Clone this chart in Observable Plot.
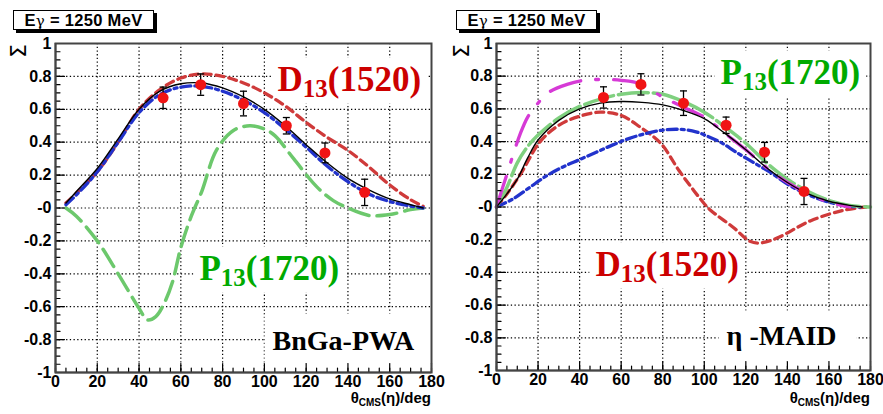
<!DOCTYPE html>
<html><head><meta charset="utf-8">
<script src="https://cdn.jsdelivr.net/npm/d3@7"></script>
<script src="https://cdn.jsdelivr.net/npm/@observablehq/plot@0.6"></script>
<style>
body{margin:0;background:#fff;}
#wrap{position:relative;width:883px;height:414px;overflow:hidden;font-family:"Liberation Sans",Arial,sans-serif;background:#fff;}
.panel{position:absolute;top:0;overflow:visible;}
.ebox{position:absolute;top:10px;height:18px;width:139px;border:1.5px solid #000;background:#fff;box-shadow:3px 3px 0 #000;font-weight:bold;font-size:16.5px;line-height:18px;text-align:center;white-space:nowrap;letter-spacing:0.3px;}
.ebox .g{font-family:"DejaVu Serif",serif;font-weight:normal;font-size:15px;}
.sig{position:absolute;font-family:"DejaVu Sans",sans-serif;font-size:22px;transform:rotate(-90deg);transform-origin:center;line-height:22px;}
.xt{position:absolute;top:389px;font-size:15px;font-weight:bold;white-space:nowrap;}
.xt sub{font-size:10px;vertical-align:-3px;}
</style></head>
<body><div id="wrap"></div>
<script>
// ---------- data ----------
const thetaData = [51.5, 69.5, 90, 110.5, 129, 148];
const sigmaData = [0.67, 0.75, 0.635, 0.50, 0.335, 0.095];
const sigmaErr  = [0.065, 0.065, 0.075, 0.05, 0.06, 0.08];

// BnGa-PWA panel
const bngaTheta = [5,10,20,30,40,50,60,70,80,90,100,110,120,130,140,150,160,170,176];
const bngaFull  = [0.03,0.10,0.24,0.42,0.60,0.71,0.755,0.76,0.73,0.675,0.60,0.50,0.385,0.275,0.18,0.11,0.055,0.02,0.0];
const bngaBlue  = [0.02,0.08,0.22,0.40,0.58,0.69,0.735,0.74,0.71,0.655,0.58,0.48,0.37,0.255,0.16,0.085,0.04,0.012,0.0];
const bngaD13   = [0.03,0.09,0.22,0.40,0.60,0.72,0.79,0.815,0.80,0.76,0.70,0.62,0.52,0.43,0.35,0.25,0.14,0.05,0.01];
const bngaP13Theta = [5,10,20,30,40,44,48,52,56,60,65,70,77,85,93,100,105,114,125,133,140,150,160,170,176];
const bngaP13      = [0.0,-0.05,-0.20,-0.40,-0.61,-0.68,-0.66,-0.58,-0.45,-0.24,-0.05,0.10,0.35,0.47,0.50,0.48,0.44,0.30,0.13,0.045,0.0,-0.045,-0.04,-0.01,0.0];

// eta-MAID panel
const maidTheta = [0,5,10,15,20,30,40,50,60,70,80,90,100,110,120,130,140,150,160,170,176];
const maidFull  = [0,0.08,0.17,0.30,0.41,0.53,0.60,0.635,0.645,0.64,0.625,0.59,0.54,0.45,0.35,0.24,0.15,0.08,0.035,0.01,0.0];
const maidP13Theta = [0,5,10,15,20,30,40,50,60,70,80,90,100,110,120,130,140,150,160,170,180];
const maidP13   = [0,0.12,0.27,0.37,0.44,0.545,0.615,0.66,0.69,0.70,0.69,0.645,0.58,0.49,0.39,0.27,0.17,0.095,0.04,0.01,0.0];
const maidMagTheta = [0,1,5,8,11.5,15,19,25,34,42,50,60,69,79,90,100,110,120,130,140,150,160,170];
const maidMag   = [0,0.04,0.20,0.32,0.45,0.55,0.62,0.70,0.75,0.775,0.78,0.775,0.755,0.68,0.61,0.55,0.45,0.35,0.24,0.15,0.08,0.03,0.0];
const maidBlueTheta = [0,8,16,24,32,40,48,56,64,72,80,88,96,102,108,116,124,132,140,150,160,170,175];
const maidBlue  = [0,0.05,0.12,0.19,0.245,0.29,0.335,0.38,0.42,0.45,0.47,0.475,0.46,0.43,0.395,0.33,0.27,0.21,0.14,0.075,0.03,0.005,0.0];
const maidD13Theta = [0,5,11.5,21,30,40,50,60,69,79,88,95,100,103,114,122,127,135,151,167,178];
const maidD13   = [0,0.08,0.20,0.40,0.50,0.555,0.58,0.56,0.49,0.39,0.22,0.10,0.02,-0.02,-0.125,-0.21,-0.22,-0.19,-0.085,-0.02,0.0];

// ticks
const xTicks = [0,20,40,60,80,100,120,140,160,180];
const xTickLabels = ["0","20","40","60","80","100","120","140","160","180"];
const yTicks = [-1,-0.8,-0.6,-0.4,-0.2,0,0.2,0.4,0.6,0.8,1];
const yTickLabels = ["-1","-0.8","-0.6","-0.4","-0.2","-0","0.2","0.4","0.6","0.8","1"];
const xGrid = [20,40,60,80,100,120,140,160];
const yGrid = [-0.8,-0.6,-0.4,-0.2,0,0.2,0.4,0.6,0.8];
const xMinor = d3.range(0, 181, 5);
const yMinor = d3.range(-20, 21).map(k => k * 0.05);

// annotations
const leftNotes  = [["D13(1520)",106.3,0.714,"#cc0000",35],["P13(1720)",68.9,-0.435,"#00aa00",35],["BnGa-PWA",103.9,-0.866,"#000",28]];
const rightNotes = [["P13(1720)",107.8,0.755,"#00aa00",35],["D13(1520)",47.6,-0.419,"#cc0000",35],["η -MAID",110.7,-0.847,"#000",28]];
const notePad = {"BnGa-PWA":[8,12,20,30], "η -MAID":[8,10,20,30]};

// ---------- drawing ----------
const vline = {draw(ctx, l){ ctx.moveTo(0,0); ctx.lineTo(0,-l); }};
const capSymbol = {draw(ctx, size){ ctx.moveTo(-3.5,0); ctx.lineTo(3.5,0); }};

function series(theta, sigma){ return theta.map((t,i)=>({t, s: sigma[i]})); }

function panel({left, width, marginRight, marginBottom, curves, notes}){
  const pts = thetaData.map((t,i)=>({t, s: sigmaData[i], e: sigmaErr[i]}));
  const noteData = notes.map(([text,x,y,color,size])=>({text,x,y,color,size}));
  const grid = {stroke:"#000", strokeOpacity:1, strokeWidth:1.2, strokeDasharray:"1.3,2.4"};
  const marks = [
    Plot.gridX(xGrid, grid),
    Plot.gridY(yGrid, grid),
  ];
  for (const sz of [35, 28]) {
    marks.push(Plot.text(noteData.filter(d=>d.size===sz), {x:"x", y:"y", text:"text", fill:"color", fontSize: sz,
      fontFamily:"Liberation Serif, Times New Roman, serif", fontWeight:"bold", textAnchor:"start", lineAnchor:"bottom"}));
  }
  for (const c of curves) {
    marks.push(Plot.line(series(c.theta, c.sigma), {x:"t", y:"s", stroke:c.color, strokeWidth:c.width,
      strokeDasharray:c.dash, curve:"catmull-rom"}));
  }
  marks.push(
    Plot.ruleX(pts, {x:"t", y1:d=>d.s-d.e, y2:d=>d.s+d.e, stroke:"#000", strokeWidth:1.3}),
    Plot.dot(pts, {x:"t", y:d=>d.s+d.e, symbol:capSymbol, r:4, stroke:"#000", fill:"none", strokeWidth:1.3}),
    Plot.dot(pts, {x:"t", y:d=>d.s-d.e, symbol:capSymbol, r:4, stroke:"#000", fill:"none", strokeWidth:1.3}),
    Plot.dot(pts, {x:"t", y:"s", r:5.5, fill:"#f01414"}),
    Plot.vector(xMinor, {x:d=>d, y:()=>-1, length:4.5, rotate:0, anchor:"start", shape:vline, stroke:"#000", strokeWidth:1.2}),
    Plot.vector(xTicks, {x:d=>d, y:()=>-1, length:9, rotate:0, anchor:"start", shape:vline, stroke:"#000", strokeWidth:1.2}),
    Plot.vector(yMinor, {x:()=>0, y:d=>d, length:4.5, rotate:90, anchor:"start", shape:vline, stroke:"#000", strokeWidth:1.2}),
    Plot.vector(yTicks, {x:()=>0, y:d=>d, length:9, rotate:90, anchor:"start", shape:vline, stroke:"#000", strokeWidth:1.2}),
    Plot.axisX(xTicks, {tickSize:0, tickPadding:3, tickFormat:(d)=>xTickLabels[xTicks.indexOf(d)], fontSize:16, fontWeight:"bold", label:null}),
    Plot.axisY(yTicks, {tickSize:0, tickPadding:4, tickFormat:(d)=>yTickLabels[yTicks.indexOf(d)], fontSize:16, fontWeight:"bold", label:null}),
    Plot.ruleX([0], {stroke:"#000", strokeWidth:1.5}),
    Plot.ruleY([-1], {stroke:"#000", strokeWidth:1.5}),
    Plot.frame({stroke:"#444", strokeWidth:2})
  );
  const svg = Plot.plot({
    width, height:414, marginLeft:55, marginRight, marginTop:43, marginBottom,
    x:{domain:[0,180]}, y:{domain:[-1,1]},
    style:{fontFamily:"Liberation Sans, Arial, sans-serif", color:"#000", background:"transparent", overflow:"visible"},
    marks
  });
  svg.classList.add("panel");
  svg.style.left = left + "px";
  document.getElementById("wrap").appendChild(svg);
  // subscripts and white label backgrounds
  svg.querySelectorAll("text").forEach(t => {
    const txt = t.textContent;
    const m = /^([A-Z])(\d\d)(\(\d+\))$/.exec(txt);
    const isNote = m || notePad[txt];
    if (!isNote) return;
    if (m) {
      t.textContent = "";
      const mk = (s, dy, size) => { const ts = document.createElementNS("http://www.w3.org/2000/svg","tspan"); ts.textContent = s; if (dy) ts.setAttribute("dy", dy); if (size) ts.setAttribute("font-size", size); t.appendChild(ts); };
      mk(m[1]); mk(m[2], 6, 25); mk(m[3], -6);
    }
    const bb = t.getBBox();
    const p = notePad[txt] || [6,2,6,2];
    const r = document.createElementNS("http://www.w3.org/2000/svg","rect");
    r.setAttribute("x", bb.x - p[0]); r.setAttribute("y", bb.y - p[1]);
    r.setAttribute("width", bb.width + p[0] + p[2]); r.setAttribute("height", bb.height + p[1] + p[3]);
    r.setAttribute("fill", "#fff");
    if (t.getAttribute("transform")) r.setAttribute("transform", t.getAttribute("transform"));
    t.parentNode.insertBefore(r, t);
  });
}

panel({left:0, width:441, marginRight:10, marginBottom:42, notes:leftNotes, curves:[
  {theta:bngaP13Theta, sigma:bngaP13, color:"#6cc86c", width:3.5, dash:"20,8"},
  {theta:bngaTheta, sigma:bngaD13, color:"#cf3a3a", width:3.3, dash:"8,5"},
  {theta:bngaTheta, sigma:bngaBlue, color:"#2233cc", width:3.3, dash:"10,4,3,4"},
  {theta:bngaTheta, sigma:bngaFull, color:"#000", width:1.4}
]});
panel({left:441, width:442, marginRight:13, marginBottom:44, notes:rightNotes, curves:[
  {theta:maidD13Theta, sigma:maidD13, color:"#cf3a3a", width:3.3, dash:"8,5"},
  {theta:maidBlueTheta, sigma:maidBlue, color:"#2233cc", width:3.3, dash:"10,4,3,4"},
  {theta:maidP13Theta, sigma:maidP13, color:"#7fd07f", width:3.5, dash:"30,5"},
  {theta:maidMagTheta, sigma:maidMag, color:"#d63ad6", width:3.3, dash:"32,15,3,15"},
  {theta:maidTheta, sigma:maidFull, color:"#000", width:1.4}
]});

// HTML decorations: energy boxes, Σ label, axis titles
const wrap = document.getElementById("wrap");
function addDiv(cls, html, style){ const d = document.createElement("div"); d.className = cls; d.innerHTML = html; Object.assign(d.style, style); wrap.appendChild(d); return d; }
addDiv("ebox", "E<span class='g'>γ</span> = 1250 MeV", {left:"13px"});
addDiv("ebox", "E<span class='g'>γ</span> = 1250 MeV", {left:"456px"});
addDiv("sig", "Σ", {left:"12px", top:"40px"});
addDiv("sig", "Σ", {left:"455px", top:"40px"});
addDiv("xt", "θ<sub>CMS</sub>(η)/deg", {right:(883-431)+"px"});
addDiv("xt", "θ<sub>CMS</sub>(η)/deg", {right:(883-870)+"px"});
</script>
</body></html>
